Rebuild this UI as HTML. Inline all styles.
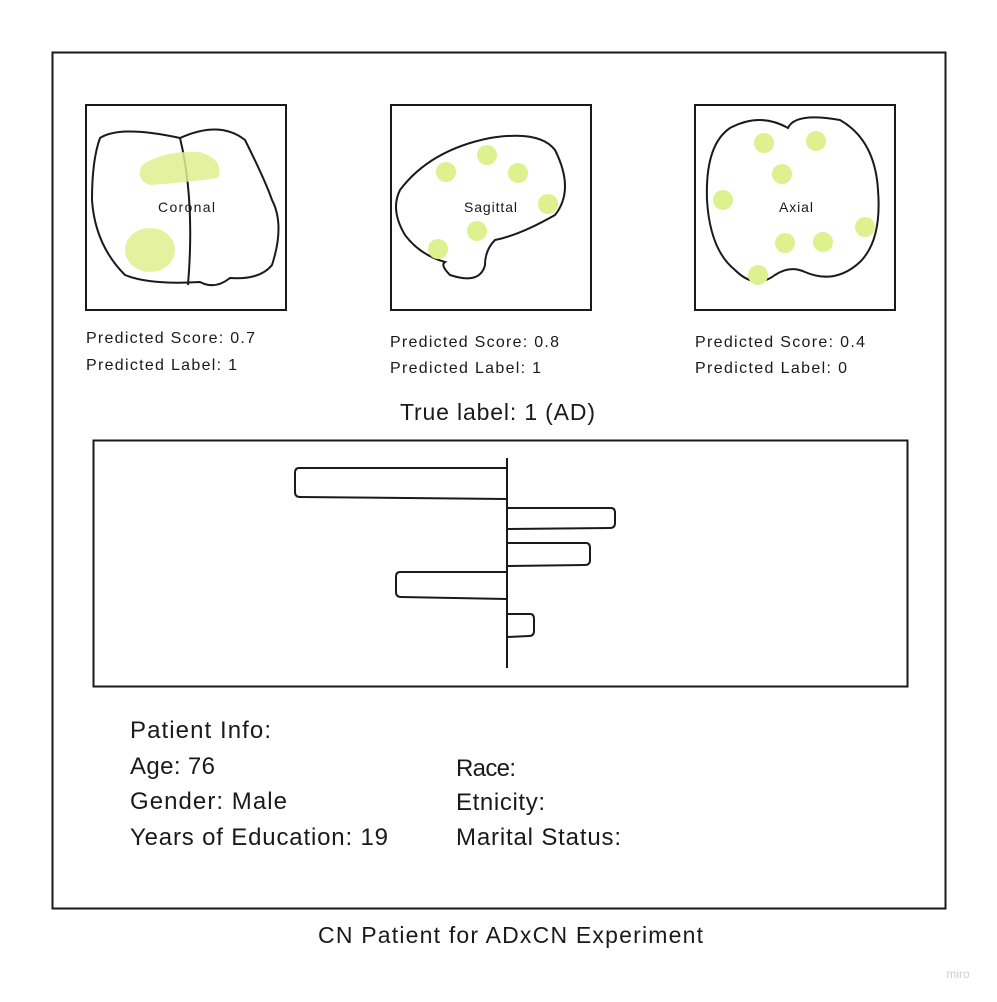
<!DOCTYPE html>
<html><head><meta charset="utf-8"><style>
body{margin:0;background:#fff;}
svg{display:block;font-family:"Liberation Sans",sans-serif;}
</style></head><body>
<svg width="997" height="1002" viewBox="0 0 997 1002">
<rect x="52.5" y="52.5" width="893" height="856" fill="none" stroke="#1a1a1a" stroke-width="2"/>

<g>
<rect x="86" y="105" width="200" height="205" fill="none" stroke="#1a1a1a" stroke-width="2"/>
<path d="M100 138 Q120 125 180 138 Q220 120 245 140 Q265 180 272 200 Q285 225 272 265 Q260 280 230 278 Q215 290 200 282 Q150 285 125 275 Q95 245 92 200 Q92 160 100 138Z" fill="none" stroke="#1a1a1a" stroke-width="2"/>
<path d="M180 138 Q195 200 188 285" fill="none" stroke="#1a1a1a" stroke-width="2"/>
<path d="M142 165 Q165 150 200 152 Q225 160 218 178 Q190 182 150 185 Q135 180 142 165Z" fill="#dff08f" opacity="0.85"/>
<ellipse cx="150" cy="250" rx="25" ry="22" fill="#dff08f" opacity="0.85"/>
<text x="158" y="212" font-size="14" textLength="57" fill="#1a1a1a">Coronal</text>
</g>
<text x="86" y="343" font-size="16" textLength="169" fill="#1a1a1a">Predicted Score: 0.7</text>
<text x="86" y="370" font-size="16" textLength="151" fill="#1a1a1a">Predicted Label: 1</text>

<g>
<rect x="391" y="105" width="200" height="205" fill="none" stroke="#1a1a1a" stroke-width="2"/>
<path d="M400 190 Q430 150 490 138 Q540 130 555 150 Q575 190 555 215 Q520 235 495 240 Q485 250 485 265 Q480 285 450 275 Q440 265 445 262 Q420 255 405 235 Q390 210 400 190Z" fill="none" stroke="#1a1a1a" stroke-width="2"/>
<g fill="#dff08f"><circle cx="446" cy="172" r="10"/><circle cx="487" cy="155" r="10"/><circle cx="518" cy="173" r="10"/><circle cx="548" cy="204" r="10"/><circle cx="477" cy="231" r="10"/><circle cx="438" cy="249" r="10"/></g>
<text x="464" y="212" font-size="14" textLength="53" fill="#1a1a1a">Sagittal</text>
</g>
<text x="390" y="347" font-size="16" textLength="169" fill="#1a1a1a">Predicted Score: 0.8</text>
<text x="390" y="373" font-size="16" textLength="151" fill="#1a1a1a">Predicted Label: 1</text>

<g>
<rect x="695" y="105" width="200" height="205" fill="none" stroke="#1a1a1a" stroke-width="2"/>
<path d="M730 128 Q760 112 788 128 Q795 112 840 120 Q875 140 878 190 Q882 240 860 262 Q835 285 805 272 Q790 265 775 275 Q755 290 735 270 Q710 250 707 200 Q705 145 730 128Z" fill="none" stroke="#1a1a1a" stroke-width="2"/>
<g fill="#dff08f"><circle cx="764" cy="143" r="10"/><circle cx="816" cy="141" r="10"/><circle cx="782" cy="174" r="10"/><circle cx="723" cy="200" r="10"/><circle cx="865" cy="227" r="10"/><circle cx="785" cy="243" r="10"/><circle cx="823" cy="242" r="10"/><circle cx="758" cy="275" r="10"/></g>
<text x="779" y="212" font-size="14" textLength="34" fill="#1a1a1a">Axial</text>
</g>
<text x="695" y="347" font-size="16" textLength="170" fill="#1a1a1a">Predicted Score: 0.4</text>
<text x="695" y="373" font-size="16" textLength="152" fill="#1a1a1a">Predicted Label: 0</text>

<text x="400" y="420" font-size="23" textLength="195" fill="#1a1a1a">True label: 1 (AD)</text>

<rect x="93.5" y="440.5" width="814" height="246" fill="none" stroke="#1a1a1a" stroke-width="2"/>
<g id="bars"></g>
<line x1="507" y1="458" x2="507" y2="668" stroke="#1a1a1a" stroke-width="2"/>

<g font-size="24" fill="#1a1a1a">
<text x="130" y="738" textLength="141">Patient Info:</text>
<text x="130" y="774" textLength="85">Age: 76</text>
<text x="130" y="809" textLength="157">Gender: Male</text>
<text x="130" y="845" textLength="258">Years of Education: 19</text>
<text x="456" y="776" textLength="60">Race:</text>
<text x="456" y="810" textLength="89">Etnicity:</text>
<text x="456" y="845" textLength="165">Marital Status:</text>
</g>
<text x="318" y="943" font-size="23" textLength="385" fill="#1a1a1a">CN Patient for ADxCN Experiment</text>
<text x="958" y="978" font-size="12" text-anchor="middle" fill="#cfcfcf">miro</text>
</svg>
<script>
const features = ["f1","f2","f3","f4","f5"];
const values = [-0.212, 0.108, 0.083, -0.111, 0.027];
const barTops = [468, 508, 543, 572, 614];
const barHeights = [29, 20, 22, 25, 22];
const x0 = 507, scale = 1000;
function xs(v){return x0 + v*scale;}
const g = document.getElementById('bars');
values.forEach((v,i)=>{
  const x1 = xs(Math.min(0,v)), x2 = xs(Math.max(0,v));
  const y = barTops[i], h = barHeights[i];
  const p = document.createElementNS('http://www.w3.org/2000/svg','path');
  let d;
  if (v<0) d = `M${x2} ${y} L${x1+4} ${y} Q${x1} ${y} ${x1} ${y+5} L${x1} ${y+h-5} Q${x1} ${y+h} ${x1+5} ${y+h} L${x2} ${y+h+2}`;
  else d = `M${x1} ${y} L${x2-4} ${y} Q${x2} ${y} ${x2} ${y+5} L${x2} ${y+h-5} Q${x2} ${y+h} ${x2-5} ${y+h} L${x1} ${y+h+1}`;
  p.setAttribute('d', d);
  p.setAttribute('fill','none');
  p.setAttribute('stroke','#1a1a1a');
  p.setAttribute('stroke-width','2');
  
  
  g.appendChild(p);
});
</script>
</body></html>
